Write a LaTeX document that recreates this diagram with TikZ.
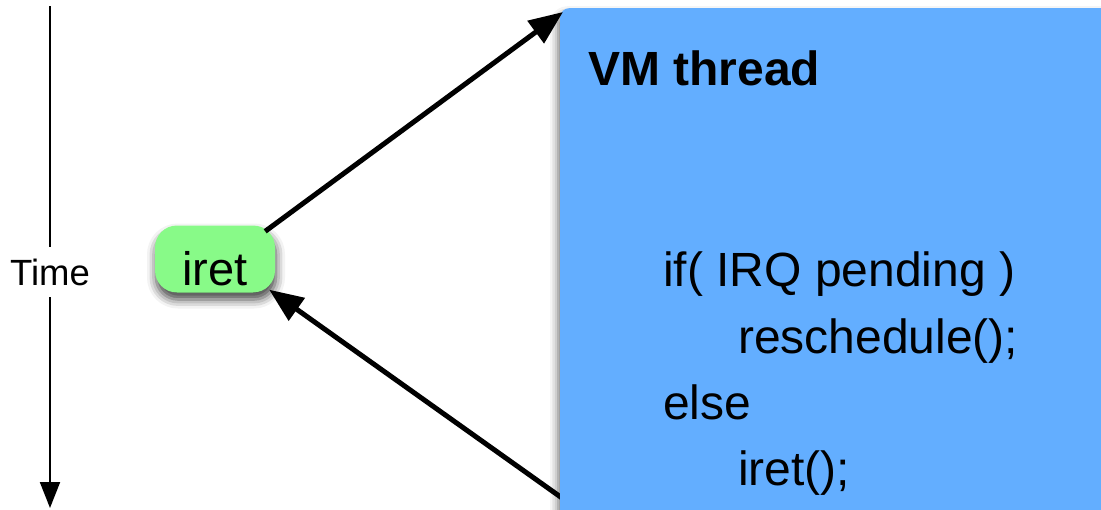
\documentclass[tikz,border=0pt]{standalone}
\usepackage{fontspec}
\setmainfont{Liberation Sans}
\usetikzlibrary{arrows.meta,shadows.blur}
\definecolor{vmblue}{RGB}{99,174,255}
\definecolor{iretgreen}{RGB}{136,250,136}
\tikzset{
  bigarrow/.style={line width=5pt,-{Triangle[length=34pt,width=27pt]}},
  timearrow/.style={line width=2pt,-{Triangle[length=26pt,width=20pt]}},
  timelabel/.style={inner sep=0pt,minimum height=50pt,font=\fontsize{36.5}{43}\selectfont},
  iretbox/.style={fill=iretgreen,rounded corners=22pt,minimum width=120pt,
    text height=52pt,text depth=0pt,inner ysep=7.5pt,inner xsep=0pt,
    font=\fontsize{47}{56}\selectfont,
    blur shadow={shadow xshift=1pt,shadow yshift=-7pt,shadow blur radius=9pt,shadow opacity=75}},
  vmbox/.style={fill=vmblue,rounded corners=9pt,minimum width=580pt,minimum height=540pt,
    inner sep=0pt,
    blur shadow={shadow xshift=-2pt,shadow yshift=-6pt,shadow blur radius=8pt,shadow opacity=60}},
  codeline/.style={anchor=base west,inner sep=0pt,font=\fontsize{48}{57}\selectfont},
  titleline/.style={anchor=base west,inner sep=0pt,font=\fontsize{48}{57}\selectfont\bfseries}
}
\begin{document}
\begin{tikzpicture}[x=1pt,y=-1pt]
\useasboundingbox (0,0) rectangle (1101,509);
\clip (0,0) rectangle (1101,509);

% time axis
\coordinate (ttop) at (50,6);
\coordinate (tbot) at (50,508);
\node[timelabel] (time) at (50,272) {Time};
\draw[line width=2pt] (ttop) -- (time.north);
\draw[timearrow] (time.south) -- (tbot);

% return point
\node[iretbox,anchor=base] (iret) at (215,285) {iret};

% path back from the VM thread (runs beneath the box)
\coordinate (back) at (600,525);
\draw[bigarrow] (back) -- ([shift={(-6,-3)}]iret.south east);

% VM thread box
\node[vmbox,anchor=north west] (vm) at (560,8) {};
\node[titleline] (title) at (588,85) {VM thread};
\node[codeline] (c1) at (663,286) {if( IRQ pending )};
\node[codeline] (c2) at (738,353) {reschedule();};
\node[codeline] (c3) at (663,419) {else};
\node[codeline] (c4) at (738,485) {iret();};

% entry into the VM thread
\draw[bigarrow] ([shift={(-10,6)}]iret.north east) -- ([shift={(3,4)}]vm.north west);
\end{tikzpicture}
\end{document}
